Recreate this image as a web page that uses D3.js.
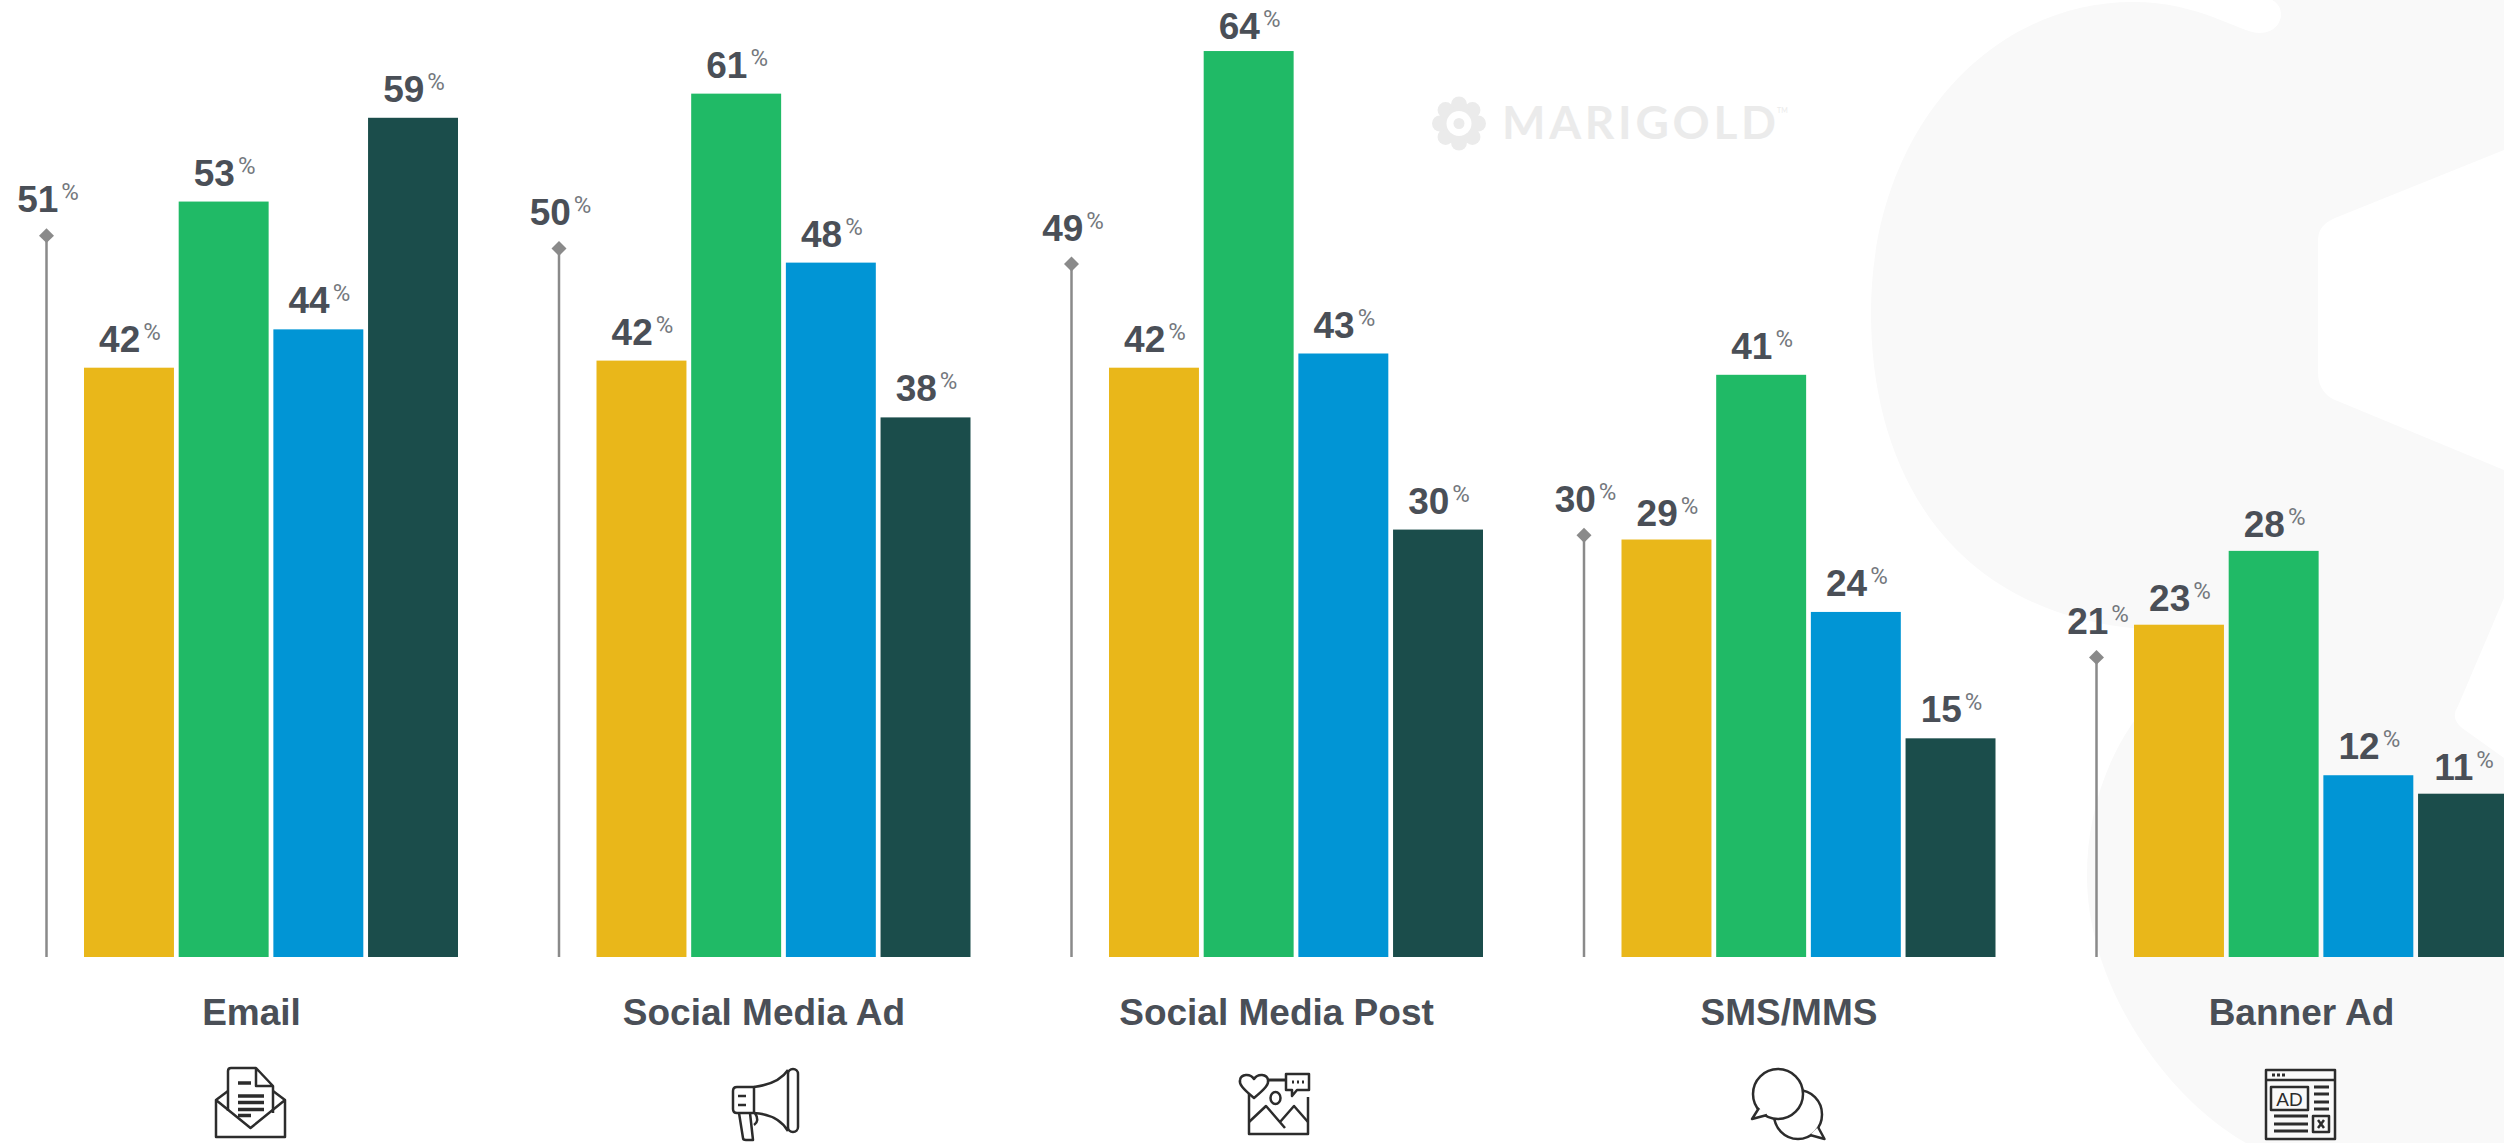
<!DOCTYPE html>
<html><head><meta charset="utf-8">
<script src="https://cdn.jsdelivr.net/npm/d3@7/dist/d3.min.js"></script>
<style>html,body{margin:0;padding:0;background:#fff;overflow:hidden}svg{display:block}</style>
</head><body><svg id="c" width="2504" height="1143"></svg>
<script>
const categories = ["Email","Social Media Ad","Social Media Post","SMS/MMS","Banner Ad"];
const seriesKeys = ["yellow","green","blue","dark"];
const seriesColors = ["#e9b71a","#20ba66","#0195d5","#1b4d4b"];
// bar heights as measured on the picture
const yellowValues = [41.5,42.0,41.5,29.4,23.4];
const greenValues  = [53.2,60.8,63.8,41.0,28.6];
const blueValues   = [44.2,48.9,42.5,24.3,12.8];
const darkValues   = [59.1,38.0,30.1,15.4,11.5];
const benchmarkValues = [50.8,49.9,48.8,29.7,21.1];
// printed labels
const yellowLabels = [42,42,42,29,23];
const greenLabels  = [53,61,64,41,28];
const blueLabels   = [44,48,43,24,12];
const darkLabels   = [59,38,30,15,11];
const benchmarkLabels = [51,50,49,30,21];

const seriesValues = [yellowValues,greenValues,blueValues,darkValues];
const seriesLabels = [yellowLabels,greenLabels,blueLabels,darkLabels];

const svg = d3.select("#c");
const W=2504,H=1143,base=957;
const INK="#4a4f57",PCT="#74787d",FONT="'Liberation Sans',Arial,sans-serif";
// labels that sit closer to their bar than the default gap
const labelGap = {"Social Media Post|green":12,"SMS/MMS|yellow":14,"Banner Ad|yellow":14,"Banner Ad|green":14,"Banner Ad|dark":14};

const y = d3.scaleLinear().domain([0,100]).range([base,base-1420]);
const x0 = d3.scaleBand().domain(categories).range([84,84+512.5*5]);
const x1 = d3.scaleBand().domain(seriesKeys).range([0,374]).paddingInner(0.05);
const benchX = c => x0(c)-37.5;
const centerX = c => x0(c)+167.5;

// background mark
svg.append("path").attr("fill","#f9f9f9").attr("d",
 "M2272,0 C2288,8 2282,33 2260,33 C2240,33 2200,2 2133,2 C1990,2 1871,130 1871,313 C1871,480 1960,640 2200,630 "+
 "L2160,690 C2110,740 2087,810 2087,875 C2087,990 2170,1100 2246,1143 H2504 V758 L2462,728 Q2450,718 2458,706 L2504,598 "+
 "V470 L2340,402 Q2318,395 2318,372 V240 Q2318,225 2335,218 L2504,150 V0 Z");

// logo
const logo = svg.append("g").attr("transform","translate(1459,123.5)").attr("fill","#ebebeb");
d3.range(8).forEach(i=>{const a=i*Math.PI/4;
  logo.append("circle").attr("cx",19*Math.cos(a)).attr("cy",19*Math.sin(a)).attr("r",8);});
logo.append("circle").attr("r",17);
logo.append("circle").attr("r",12.5).attr("fill","#fff");
logo.append("circle").attr("r",5.5);
svg.append("text").attr("x",1502).attr("y",139).attr("textLength",274).attr("lengthAdjust","spacing")
  .attr("font-family","Lato,sans-serif").attr("font-weight",700).attr("font-size",46).attr("fill","#ebebeb").text("MARIGOLD");
svg.append("text").attr("x",1777).attr("y",113).attr("font-family","Lato,sans-serif").attr("font-size",7).attr("fill","#ebebeb").text("TM");

function valueLabel(g,cx,by,v){
  const t=g.append("text").attr("x",cx).attr("y",by).attr("text-anchor","middle").attr("font-family",FONT);
  t.append("tspan").attr("font-size",37).attr("font-weight",700).attr("fill",INK).text(v);
  t.append("tspan").attr("font-family","Roboto,sans-serif").attr("font-weight",400).attr("font-size",24)
    .attr("dx",3).attr("dy",-12).attr("fill",PCT).text("%");
}

categories.forEach((c,i)=>{
  const g=svg.append("g");
  // benchmark lollipop
  g.append("line").attr("x1",benchX(c)).attr("x2",benchX(c)).attr("y1",y(benchmarkValues[i])).attr("y2",y(0))
    .attr("stroke","#8a8a8a").attr("stroke-width",2.5);
  g.append("path").attr("d",d3.symbol(d3.symbolSquare,112)())
    .attr("transform",`translate(${benchX(c)},${y(benchmarkValues[i])}) rotate(45)`).attr("fill","#8a8a8a");
  valueLabel(g,benchX(c)+1.5,y(benchmarkValues[i])-23.5,benchmarkLabels[i]);
  // bars
  seriesKeys.forEach((k,j)=>{
    const v=seriesValues[j][i], bx=x0(c)+x1(k);
    g.append("rect").attr("x",bx).attr("y",y(v)).attr("width",x1.bandwidth()).attr("height",y(0)-y(v)).attr("fill",seriesColors[j]);
    valueLabel(g,bx+x1.bandwidth()/2+1,y(v)-(labelGap[c+"|"+k]||16),seriesLabels[j][i]);
  });
  // category
  g.append("text").attr("x",centerX(c)).attr("y",1025).attr("text-anchor","middle")
    .attr("font-family",FONT).attr("font-weight",700).attr("font-size",37).attr("fill",INK).text(c);
});

// icons
const icon=(x,y0)=>svg.append("g").attr("transform",`translate(${x},${y0})`)
  .attr("fill","none").attr("stroke","#2c2c2c").attr("stroke-width",2.5).attr("stroke-linejoin","round");
const ln=(g,d,w)=>g.append("path").attr("d",d).attr("stroke-width",w||2.5);

// email
let ic=icon(215,1067);
ln(ic,"M1,33 V70 H70 V33 L35.5,61 L1,33 L13,24 M70,33 L58,24");
ln(ic,"M13,44 V4 Q13,1 16,1 H41 L58,19 V46 M41,1 V19 H58");
ln(ic,"M23,16 H36 M23,29 H49 M23,35.5 H49 M23,42.5 H49 M23,48.5 H36",3.5);

// megaphone
ic=icon(732,1069);
ln(ic,"M5,18 H22 V44 H5 Q1,44 1,40 V22 Q1,18 5,18 Z");
ln(ic,"M22,18 C38,16 50,10 56,1 M22,44 C38,45 50,52 56,62");
ic.append("rect").attr("x",56).attr("y",0).attr("width",10).attr("height",63).attr("rx",5);
ln(ic,"M7,44 L11,69 Q11,71 14,71 H21 L18,44 M23,44 Q28,52 22,56");
ln(ic,"M6,27 H14 M6,36 H14",2.5);

// social post
ic=icon(1239,1073);
ln(ic,"M15,25 C3,15 0,11 1,7 C2,1 11,0 15,6 C19,0 28,1 29,7 C30,11 27,15 15,25 Z");
ln(ic,"M29,7 H47",3);
ln(ic,"M47,1 H70 V17 H58 L53,23 V17 H47 Z");
ln(ic,"M53,9 H55 M58,9 H60 M63,9 H65",3);
ln(ic,"M10,21 V61 H69 V24");
ln(ic,"M10,49 L27,33 L46,55 M41,49 L55,33 L69,49");
ic.append("ellipse").attr("cx",36.5).attr("cy",25).attr("rx",5).attr("ry",6);

// sms
ic=icon(1751,1069);
ic.append("ellipse").attr("cx",47).attr("cy",45.5).attr("rx",24).attr("ry",24.5).attr("fill","#fff");
ic.append("path").attr("d","M67,58 L73.5,70 L59,66").attr("fill","#fff");
ic.append("ellipse").attr("cx",27).attr("cy",25).attr("rx",25).attr("ry",25).attr("fill","#fff");
ic.append("path").attr("d","M8,39 L1,50 L16,46").attr("fill","#fff");

// banner
ic=icon(2265,1069);
ic.append("rect").attr("x",1).attr("y",1).attr("width",69).attr("height",69);
ln(ic,"M1,11 H70");
ln(ic,"M7,6 H22",3).attr("stroke-dasharray","3 2");
ic.append("rect").attr("x",6).attr("y",18).attr("width",37).attr("height",23);
ic.append("text").attr("x",24.5).attr("y",37).attr("text-anchor","middle").attr("font-family",FONT)
  .attr("font-size",19).attr("stroke","none").attr("fill","#2c2c2c").text("AD");
ln(ic,"M49,18 H64 M49,25 H64 M49,33 H64 M49,40 H64 M9,47 H43 M9,55 H43 M9,62 H43",3);
ic.append("rect").attr("x",48).attr("y",47).attr("width",16).attr("height",16);
ln(ic,"M53,51 L59,59 M59,51 L53,59",2.5);
</script></body></html>
